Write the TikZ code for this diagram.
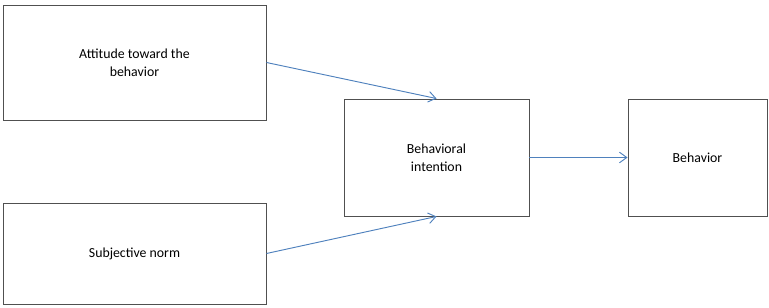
\documentclass[tikz,border=0pt]{standalone}
\usepackage{fontspec}
\setmainfont{Carlito}
\usetikzlibrary{arrows.meta}
\definecolor{linkblue}{RGB}{79,129,189}
\definecolor{boxgrey}{RGB}{80,80,80}

\begin{document}
\begin{tikzpicture}[
    box/.style={draw=boxgrey, thick, align=center, font=\fontsize{11.8}{15.5}\selectfont},
    link/.style={-{Straight Barb[length=2.2mm,width=3.2mm]}, draw=linkblue, thick},
  ]
    \useasboundingbox (0,0) rectangle (23.07,9.24);

    \node[box, minimum width=7.89cm, minimum height=3.45cm] (att) at (4.035,7.365)
      {Attitude toward the\\behavior};
    \node[box, minimum width=7.89cm, minimum height=3.03cm] (norm) at (4.035,1.635)
      {Subjective norm};
    \node[box, minimum width=5.55cm, minimum height=3.51cm] (intent) at (13.095,4.515)
      {Behavioral\\intention};
    \node[box, minimum width=4.17cm, minimum height=3.51cm] (behav) at (20.925,4.515)
      {Behavior};

    \draw[link] (att.east) -- (intent.north);
    \draw[link] (norm.east) -- (intent.south);
    \draw[link] (intent.east) -- (behav.west);
  \end{tikzpicture}
\end{document}
